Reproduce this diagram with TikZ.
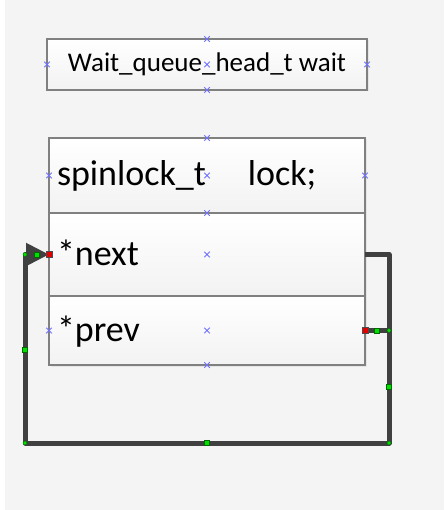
\documentclass[tikz,border=0pt]{standalone}
\usepackage{fontspec}
\setmainfont{Carlito}
\usetikzlibrary{arrows.meta,shapes.misc,shadows}

\definecolor{canvas}{HTML}{F4F4F4}
\definecolor{wire}{HTML}{404040}
\definecolor{frame}{HTML}{808080}
\definecolor{handle}{HTML}{7070FF}
\definecolor{grip}{HTML}{00E000}

\tikzset{
  box/.style={draw=frame, line width=1.3pt, top color=white, bottom color=black!5,
    outer sep=0pt, drop shadow={opacity=0.12, shadow xshift=1.5pt, shadow yshift=-1.5pt}},
  field/.style={box, inner xsep=8pt, inner ysep=0pt, text width=300pt, align=left,
    font=\fontsize{36}{40}\selectfont, text height=21pt, text depth=0pt,
    minimum height=#1, anchor=north west},
  link/.style={draw=wire, line width=5pt, line join=round},
  hx/.style={cross out, draw=handle, line width=1pt, minimum size=4.5pt, inner sep=0pt},
  gdot/.style={circle, fill=grip, draw=green!40!black, line width=0.4pt, minimum size=4pt, inner sep=0pt},
  gsq/.style={rectangle, fill=grip, draw=green!40!black, line width=0.4pt, minimum size=5pt, inner sep=0pt},
  rsq/.style={rectangle, fill=red!90!black, draw=black!70, line width=0.6pt, minimum size=6pt, inner sep=0pt}
}

\begin{document}
\begin{tikzpicture}[x=1pt, y=-1pt]
    % canvas
    \fill[white] (0,0) rectangle (444,510);
    \fill[canvas] (5,0) rectangle (444,510);
    \useasboundingbox (0,0) rectangle (444,510);

    % boxes
    \node[box, minimum width=320pt, minimum height=51pt, inner sep=0pt,
          font=\fontsize{27}{32}\selectfont, text height=15pt, text depth=0pt]
          (waitbox) at (207,64.5) {Wait\_queue\_head\_t wait};

    \node[field=75pt] (lockrow) at (49,138) {spinlock\_t\hspace{42pt}lock;};
    \node[field=83pt] (nextrow) at (49,213) {*next};
    \node[field=69pt] (prevrow) at (49,296) {*prev};

    % bends of the connector
    \coordinate (rightjoin) at (389,330.5);
    \coordinate (lowright) at (389,443);
    \coordinate (lowleft) at (25,443);

    % connectors
    \draw[link] (nextrow.east) -| (rightjoin);
    \draw[link, -{Triangle[length=23pt, width=22pt]}] (prevrow.east) -- (rightjoin)
        -- (lowright) -- (lowleft) |- (nextrow.west);

    % selection handles
    \foreach \a in {waitbox.north, waitbox.west, waitbox.center, waitbox.east, waitbox.south,
        lockrow.north, lockrow.west, lockrow.center, lockrow.east, lockrow.south,
        nextrow.center, prevrow.west, prevrow.center, prevrow.south}
        \node[hx] at (\a) {};

    \node[gdot] (g1) at (lowleft |- nextrow.west) {};
    \node[gdot] (g2) at (lowleft) {};
    \node[gdot] (g3) at (lowright) {};
    \node[gdot] (g4) at (rightjoin) {};
    \node[gsq] (s1) at (37,254.5) {};
    \node[gsq] (s2) at (25,350) {};
    \node[gsq] (s3) at (207,443) {};
    \node[gsq] (s4) at (389,387) {};
    \node[gsq] (s5) at (377,330.5) {};
    \node[rsq] (r1) at (nextrow.west) {};
    \node[rsq] (r2) at (prevrow.east) {};
\end{tikzpicture}
\end{document}
